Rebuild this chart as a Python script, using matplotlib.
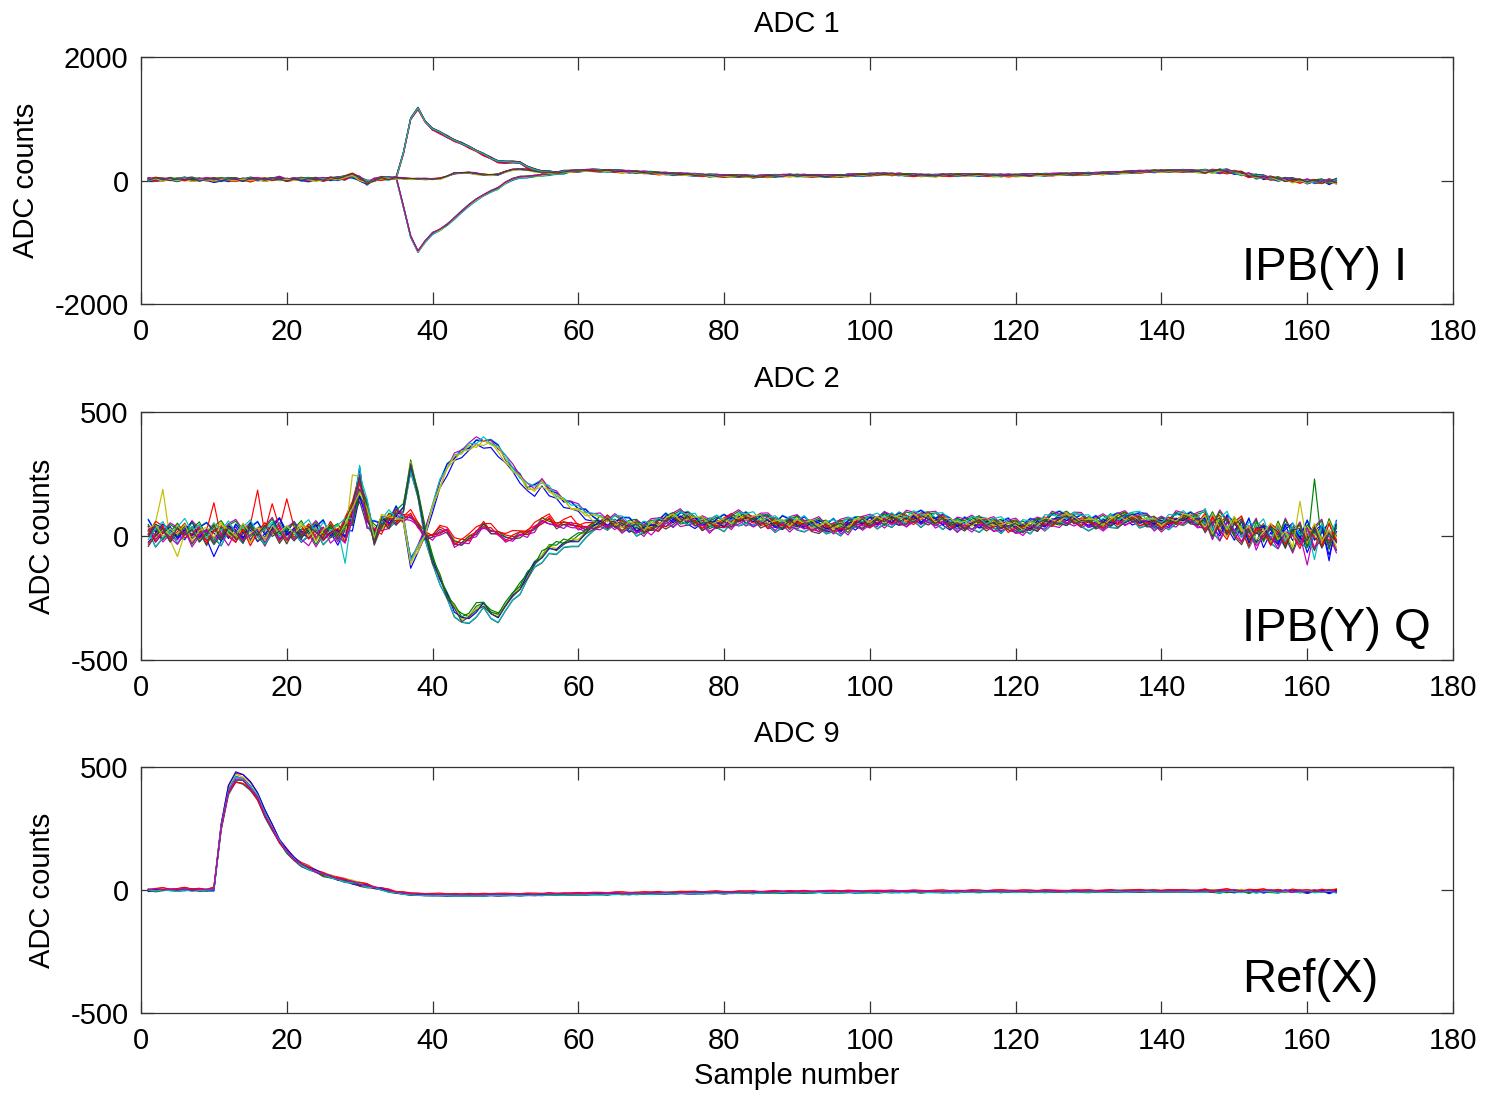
import numpy as np
import matplotlib
matplotlib.use('Agg')
import matplotlib.pyplot as plt

plt.rcParams['font.family'] = ['Liberation Sans', 'DejaVu Sans']
plt.rcParams['axes.unicode_minus'] = False

# ---------------- data ----------------
samples = np.arange(1, 165)

# MATLAB default line colour order
line_colors = [(0, 0, 1), (0, 0.5, 0), (1, 0, 0), (0, 0.75, 0.75),
               (0.75, 0, 0.75), (0.75, 0.75, 0), (0.25, 0.25, 0.25)]

# ADC 1 (IPB(Y) I): common baseline, and three branches for samples 36..58
adc1_common = [
    15, 20, 10, 18, 12, 20, 15, 10, 18, 14,
    12, 18, 15, 10, 16, 20, 12, 15, 18, 12,
    15, 20, 12, 16, 18, 25, 30,
    40, 75, 25, -35, 5, 30, 35, 38,
    35, 30, 25, 25, 25, 30, 70, 115, 125, 125,
    110, 95, 90, 100, 140, 175, 185, 175, 150, 135,
    130, 130, 135,
    150, 155, 160, 165, 160, 155, 150, 145, 140, 135,
    130, 125, 115, 110, 105, 100, 95, 90, 85, 80,
    78, 75, 72, 70, 68, 65, 65, 70, 75, 78,
    80, 80, 78, 75, 72, 70, 72, 75, 80, 85,
    90, 95, 100, 100, 98, 95, 90, 85, 82, 80,
    80, 82, 85, 88, 90, 90, 88, 85, 82, 80,
    80, 82, 85, 88, 90, 92, 95, 98, 100, 102,
    105, 108, 112, 115, 120, 125, 130, 135, 140, 145,
    148, 150, 152, 155, 155, 152, 148, 145, 148, 150,
    145, 130, 110, 90, 70, 52, 38, 25, 12, 2,
    -5, -10, -15, -15, -15, -15]
adc1_up = [440, 1000, 1165, 950, 830, 775, 710, 645, 600, 540, 480, 420,
           360, 305, 295, 295, 290, 214, 170, 145, 135, 125, 145]
adc1_mid = [35, 30, 25, 25, 25, 30, 70, 115, 125, 125, 110, 95, 90, 100,
            140, 175, 185, 175, 150, 135, 130, 130, 135]
adc1_down = [-420, -910, -1150, -990, -855, -800, -720, -612, -505, -397,
             -316, -235, -181, -126, -35, 19, 51, 62, 70, 85, 100, 115, 125]
adc1_branch_start = 36

# ADC 2 (IPB(Y) Q): common baseline, and three branches for samples 36..63
adc2_common = [
    15, 10, 12, 8, 10, 15, 12, 10, 8, 12,
    10, 15, 12, 10, 14, 12, 10, 15, 12, 10,
    12, 15, 10, 12, 14, 10, 8,
    15, 70, 200, 90, 5, 40, 65, 75,
    80, 90, 50, 5, 5, 28, 30, -25, -15, -5,
    25, 50, 30, 15, -3, 5, 15, 20, 40, 68,
    70, 50, 55, 62, 42, 40, 48,
    55, 55, 50, 45, 40, 35, 30, 32, 45, 60,
    68, 70, 66, 58, 50, 45, 48, 55, 62, 66,
    68, 68, 62, 55, 50, 48, 50, 52, 48, 42,
    38, 36, 36, 36, 40, 48, 55, 58, 60, 62,
    64, 65, 66, 68, 70, 70, 66, 58, 50, 46,
    44, 46, 50, 50, 46, 42, 38, 36, 36, 38,
    44, 52, 60, 66, 70, 68, 60, 52, 50, 52,
    58, 65, 70, 70, 64, 56, 50, 50, 55, 62,
    68, 70, 64,
    55, 46, 40, 34, 28, 22, 16, 12, 8, 5,
    3, 2, 2, 2, 3, 3, 3, 3, 3]
adc2_up = [55, -110, -60, 0, 110, 200, 265, 305, 330, 350, 362, 372, 365, 340,
           300, 262, 228, 190, 182, 205, 175, 152, 133, 115, 98, 82, 68, 58]
adc2_mid = [80, 90, 50, 5, 5, 28, 30, -25, -15, -5, 25, 50, 30, 15, -3, 5,
            15, 20, 40, 68, 70, 50, 55, 62, 42, 40, 48, 55]
adc2_down = [110, 285, 165, 10, -97, -170, -245, -298, -335, -330, -300, -272,
             -322, -318, -285, -250, -210, -160, -118, -80, -55, -45, -35,
             -25, -12, 5, 30, 55]
adc2_branch_start = 36

# ADC 9 (Ref(X)) pulse
adc9_pulse = [
    0, 0, 2, 0, 0, 2, 0, 0, 0, 5,
    260, 410, 462, 455, 425, 385, 315, 255, 200, 160,
    127, 105, 90, 76, 64, 55, 46, 38, 31, 24,
    17, 10, 3, -4, -10, -14, -17, -19, -20, -20,
    -20, -21, -21, -21, -21, -21, -21, -20, -20, -20,
    -20, -20, -19, -19, -19, -18, -18, -18, -17, -17,
    -17, -16, -16, -16, -15, -15, -15, -14, -14, -14,
    -13, -13, -13, -12, -12, -12, -12, -11, -11, -11,
    -11, -10, -10, -10, -10, -10, -9, -9, -9, -9,
    -9, -9, -8, -8, -8, -8, -8, -8, -8, -8,
    -8, -7, -7, -7, -7, -7, -7, -7, -7, -7,
    -7, -7, -6, -6, -6, -6, -6, -6, -6, -6,
    -6, -6, -6, -6, -6, -6, -6, -6, -6, -6,
    -6, -6, -5, -5, -5, -5, -5, -5, -5, -5,
    -5, -5, -5, -5, -5, -5, -5, -5, -5, -5,
    -5, -5, -5, -5, -5, -5, -5, -5, -5, -5,
    -5, -5, -5, -5]

dev0 = [-30, 10, -15, 25, 5, -20, 30, 0, -10, -60,
        -20, 15, 35, -5, 20, -25, 10, 40, -15, 5,
        25, -30, 0, 30, -10, 15, -35,
        20, -40, -30, 35, -15, 20, -10, 15,
        8, -10, 5, 12, -6, 4, -12, 10, -4, 6,
        18, -8, 2, -10, 6, 9, -5, 3, -12, 7,
        -3, 10, -8, 5, 12, -6, 2,
        15, -10, 20, 5, -15, 10, -5, 18, 8, -12,
        5, 20, -8, -18, 12, 2, 15, -10, 6, 20,
        -5, -15, 10, 18, -2, -12, 8, 14, -8, 3,
        20, -10, -5, 12, 16, -14, 4, 10, -6, 15,
        2, -12, 18, 8, -10, 6, 14, -4, -16, 10,
        5, 18, -8, -2, 12, -14, 6, 16, -10, 4,
        12, -6, 20, 2, -12, 8, 15, -8, 4, 18,
        -10, 6, 12, -16, 3, 14, -6, 10, -12, 20,
        5, -8, 12,
        30, -20, 45, 10, -35, 25, -15, 40, -45, 20,
        -30, 50, -10, 35, -60, 15, 45, -70, 25]
dev1 = [20, -25, 10, -5, 30, -15, 5, 35, -20, 15,
        40, -10, -30, 25, -45, 10, 20, -5, 30, -20,
        5, 35, -15, 20, -25, 10, 30,
        -30, 45, 25, -20, 30, -25, 15, -5,
        -6, 10, -8, 4, 9, -12, 6, -3, 11, -7,
        5, -10, 12, -4, -9, 7, 10, -6, 4, -11,
        8, -4, 11, -9, 3, 7, -10,
        -10, 18, -5, -15, 12, 20, -8, 4, -18, 10,
        15, -6, 22, 8, -12, 16, -4, -14, 10, 2,
        18, -8, 6, -16, 12, 4, -10, 20, 2, -14,
        8, 16, -12, 4, -6, 18, 10, -16, 2, 12,
        -8, 20, 4, -14, 10, 16, -6, 8, -12, 14,
        -4, 10, 20, -10, -2, 14, -16, 6, 12, -8,
        16, 2, -14, 10, 18, -6, -12, 14, 4, -10,
        20, -8, 6, 12, -14, 4, 18, -10, 8, -4,
        -12, 16, 2,
        -25, 40, -10, -40, 35, 5, -50, 30, 15, -35,
        45, -20, 10, -45, 30, 0, -35, 55, -15]
dev2 = [-45, 5, 30, -20, 10, 40, -10, 20, -35, 25,
        -5, 30, -15, 10, 35, -20, 0, 25, -30, 15,
        -20, 10, 40, -15, 25, -5, 20,
        40, -15, 30, 45, -30, 10, 25, -20,
        10, -4, 7, -9, 3, 12, -7, 5, -10, 8,
        -6, 12, -9, 6, 10, -4, -11, 8, 3, -7,
        12, -9, 4, -6, 10, -3, 8,
        8, -14, 16, 20, -6, -12, 14, 2, 12, -20,
        -10, 12, 4, 18, -16, 8, 20, -6, -14, 10,
        6, 14, -18, 2, 16, -8, 12, -4, 18, -12,
        -16, 6, 14, -8, 20, 4, -12, 8, 16, -4,
        14, -10, -6, 18, 2, -14, 10, 20, -8, 4,
        -12, 16, 6, -18, 8, 20, -2, -10, 14, 6,
        -14, 18, 8, -4, -16, 12, 6, 18, -10, 2,
        14, -18, -4, 10, 20, -8, 4, -14, 16, 6,
        18, -10, -6,
        40, -35, 15, 50, -20, -45, 25, 10, 45, -30,
        20, -40, 35, -15, 10, -50, 30, -20, 40]
dev3 = [35, -10, 20, 0, -30, 15, -25, 10, 30, -5,
        10, -40, 20, -15, 5, 30, -20, 15, 45, -10,
        30, -15, -35, 10, 35, -25, 5,
        -30, 10, 60, -45, 40, -5, -20, 30,
        -9, 6, -3, 11, -8, 5, 10, -7, 2, -12,
        9, -5, 7, 11, -8, -3, 6, -12, 10, 4,
        -7, 6, -11, 8, -4, 10, -5,
        -16, 6, -10, 14, 18, -8, 10, -14, 4, 16,
        -18, 8, 14, -4, 10, -20, 6, 16, -10, -4,
        12, -18, 4, 10, -14, 18, 2, -10, 14, -6,
        10, -4, 18, -14, 6, 12, -18, 2, -8, 20,
        -6, 12, -16, 4, 18, -2, -10, 14, 6, -18,
        16, -6, 10, 4, -14, 2, 18, -12, -6, 16,
        4, -10, 12, 18, -2, -14, 10, -4, 16, -12,
        6, 12, -10, -2, 14, 18, -16, 8, -6, 12,
        -2, 10, -14,
        -10, 25, -45, 35, 10, -30, 40, -55, 20, 5,
        -40, 30, 15, -25, 45, -35, -5, 35, -45]
dev4 = [10, 30, -20, 15, -10, 25, -40, 5, 20, -25,
        30, 5, -20, 35, -10, 15, -35, 20, -5, 25,
        -10, 20, 15, -40, 5, 30, -15,
        25, 35, -30, 15, -20, 40, 5, -10,
        4, -11, 9, -5, 7, -9, 3, 12, -6, 10,
        -12, 6, -4, 9, 5, -10, 8, 2, -9, 12,
        -5, 9, 7, -12, 6, -8, 11,
        12, -4, 8, -18, 10, 4, -16, 20, -10, 6,
        14, -16, -6, 12, 20, -10, 2, 8, -20, 14,
        -12, 6, 16, -10, 4, 12, -18, 8, -4, 16,
        -6, 18, -12, 10, -20, 14, 6, -10, 12, -14,
        10, 4, -12, 16, -8, 12, -18, 6, 14, -2,
        8, -14, 12, 16, -10, -4, 10, 2, -18, 12,
        -8, 14, -2, -16, 10, 4, -10, 12, 8, -16,
        2, 16, -12, 6, -8, 10, 12, -18, 4, -10,
        14, 4, -16,
        20, -45, 30, -15, 45, -10, 15, -35, 0, 40,
        -25, 10, -55, 20, -40, 40, -30, 15, -55]
dev5 = [-15, 40, 20, -30, 25, -10, 15, -30, 5, 35,
        -25, 20, 5, -35, 25, -5, 35, -15, 10, -40,
        15, -25, 30, 5, -20, 40, -5,
        50, 60, 40, -10, -25, 30, -35, 20,
        -10, 8, -5, 3, -12, 6, -4, 9, -8, 5,
        3, -9, 11, -7, 4, 8, -3, -10, 6, -5,
        10, -12, 3, 9, -8, 5, -3,
        -6, 20, -14, 8, -2, 16, -12, -6, 20, 2,
        8, -12, 18, -14, 4, 12, -16, 10, 20, -8,
        10, 2, -14, 14, -6, -16, 18, -12, 6, 12,
        -4, -14, 8, 18, -10, 2, 16, -18, 10, -2,
        18, -6, 10, -12, 14, 2, -14, 18, -6, 10,
        -16, 4, 18, -6, 12, -10, 6, 16, -4, -14,
        10, 16, -12, 6, 14, -18, 4, 10, -14, 8,
        -16, 10, 18, -10, 4, -12, 16, 2, 12, -6,
        8, -14, 10,
        -40, 15, 35, -25, 20, 50, -30, 5, -20, 35,
        15, -45, 25, 30, -20, 35, -50, 10, -25]
dev6 = [25, -35, 0, 30, -20, 10, 45, -15, 20, 0,
        -30, 25, 10, -20, 40, 5, -25, 15, 60, -5,
        20, -20, 10, 35, -30, 5, 15,
        -20, 20, -40, -30, 15, 35, -15, 5,
        6, -7, 10, -8, 4, -5, 12, -9, 7, -3,
        -8, 4, 9, -12, 3, 11, -6, 5, 12, -9,
        4, -10, 8, 2, -11, 7, 9,
        4, -12, 18, -8, 14, -16, 6, 12, -4, 18,
        -14, 10, -2, 16, -8, 14, 6, -18, 12, -6,
        2, -10, 18, 8, -16, 6, 14, -8, -12, 10,
        16, -8, 2, -16, 12, 8, -6, 18, -12, 6,
        -10, 16, 2, 12, -16, 8, 4, -12, 18, -8,
        12, 2, -16, 10, 6, -12, 20, -4, 8, -10,
        18, -12, 6, 10, -8, 16, -2, -12, 6, 14,
        -4, -14, 10, 16, -12, 6, -2, 14, -10, 8,
        -6, 12, 4,
        15, -10, -40, 25, -5, 35, -45, 20, 30, -15,
        -35, 25, 50, -10, -30, 20, 40, -25, 60]

# trace -> branch (0 up, 1 mid, 2 down), deviation set, offset
adc1_branch = [0, 2, 1, 2, 0, 1, 0, 2, 1, 0, 2, 1, 2, 0, 1, 2, 0, 0, 2, 1, 1]
adc1_devset = [0, 1, 2, 3, 4, 5, 6, 3, 4, 5, 6, 0, 1, 2, 6, 0, 1, 2, 3, 4, 5]
adc1_offset = [-10, 12, 5, -15, 8, -4, 15, -8, 3, 10, -12, 6, -2, 14, -6, 9,
               -14, 4, 11, -9, 0]
adc1_dev_scale = 0.6

adc2_branch = [0, 2, 1, 0, 1, 2, 2, 0, 1, 1, 2, 0, 0, 1, 2, 2, 1, 0, 1, 0, 2]
adc2_devset = [0, 1, 2, 3, 4, 5, 6, 3, 4, 5, 6, 0, 1, 2, 6, 0, 1, 2, 3, 4, 5]
adc2_offset = [-10, 12, -3, 18, -16, 6, -20, 15, -6, 9, -18, 20, 3, -12, 0, 13,
               -8, 16, -14, 7, -2]
# isolated excursions of single ADC 2 traces: trace -> [(sample, counts)]
adc2_spikes = {
    0: [(10, -83)], 5: [(3, 188), (5, -83)], 2: [(16, 185)],
    9: [(10, 134), (20, 150)], 16: [(18, 130)], 12: [(29, 246), (30, 240)],
    10: [(30, 285)], 3: [(28, -110)], 8: [(161, 230)], 4: [(160, -117)],
    19: [(159, 140)], 14: [(163, -100)], 17: [(161, -95)],
}

adc9_scale = [1.0, 0.97, 1.02, 0.95, 0.99, 1.01, 0.96, 1.03, 0.98, 0.94,
              1.0, 0.97]
adc9_offset = [-3, 2, 4, -1, 0, 3, -4, 1, -2, 5, -3, 2]
adc9_dev_scale = 0.1

titles = ['ADC 1', 'ADC 2', 'ADC 9']
labels = ['IPB(Y) I', 'IPB(Y) Q', 'Ref(X)']
y_limits = [(-2000, 2000), (-500, 500), (-500, 500)]
y_ticks = [[-2000, 0, 2000], [-500, 0, 500], [-500, 0, 500]]
x_ticks = list(range(0, 181, 20))

devs = [dev0, dev1, dev2, dev3, dev4, dev5, dev6]
for nm, arr in [('adc1_common', adc1_common), ('adc2_common', adc2_common),
                ('adc9_pulse', adc9_pulse)] + [('dev%d' % i, d) for i, d in enumerate(devs)]:
    assert len(arr) == 164, (nm, len(arr))


def branch_curve(common, branches, start, b):
    y = np.array(common, dtype=float)
    br = branches[b]
    y[start - 1:start - 1 + len(br)] = br
    return y


# ---------------- figure ----------------
W, H = 1487, 1094
fig = plt.figure(figsize=(W / 100, H / 100), dpi=100)
ax_boxes = [(57, 304), (412, 660), (767, 1013)]
axes = []
for (top, bot) in ax_boxes:
    ax = fig.add_axes([141 / W, 1 - bot / H, (1453 - 141) / W, (bot - top) / H])
    axes.append(ax)

lw = 0.85
# ADC 1
ax = axes[0]
br1 = [adc1_up, adc1_mid, adc1_down]
for j in range(len(adc1_branch)):
    y = branch_curve(adc1_common, br1, adc1_branch_start, adc1_branch[j])
    y = y + adc1_dev_scale * np.array(devs[adc1_devset[j]]) + adc1_offset[j]
    ax.plot(samples, y, color=line_colors[j % 7], lw=lw)

# ADC 2
ax = axes[1]
br2 = [adc2_up, adc2_mid, adc2_down]
for j in range(len(adc2_branch)):
    y = branch_curve(adc2_common, br2, adc2_branch_start, adc2_branch[j])
    y = y + np.array(devs[adc2_devset[j]]) + adc2_offset[j]
    for s, v in adc2_spikes.get(j, []):
        y[s - 1] = v
    ax.plot(samples, y, color=line_colors[j % 7], lw=lw)

# ADC 9
ax = axes[2]
for j in range(len(adc9_scale)):
    y = np.array(adc9_pulse, dtype=float) * adc9_scale[j]
    y = y + adc9_dev_scale * np.array(devs[j % 7]) + adc9_offset[j]
    ax.plot(samples, y, color=line_colors[j % 7], lw=lw)

label_y = [-1611, -423, -415]
for i, ax in enumerate(axes):
    ax.set_xlim(0, 180)
    ax.set_ylim(*y_limits[i])
    ax.set_xticks(x_ticks)
    ax.set_yticks(y_ticks[i])
    ax.tick_params(direction='in', top=True, right=True, length=9, width=0.9,
                   color='#333333', labelsize=21, pad=9)
    ax.tick_params(axis='x', pad=10)
    for sp in ax.spines.values():
        sp.set_color('#333333')
        sp.set_linewidth(0.9)
    ax.set_title(titles[i], fontsize=21, pad=18)
    ax.set_ylabel('ADC counts', fontsize=21, labelpad=10)
    ax.text(151.1, label_y[i], labels[i], fontsize=34, ha='left', va='baseline')

axes[2].set_xlabel('Sample number', fontsize=21, labelpad=5)

fig.savefig('out.png', dpi=100)
